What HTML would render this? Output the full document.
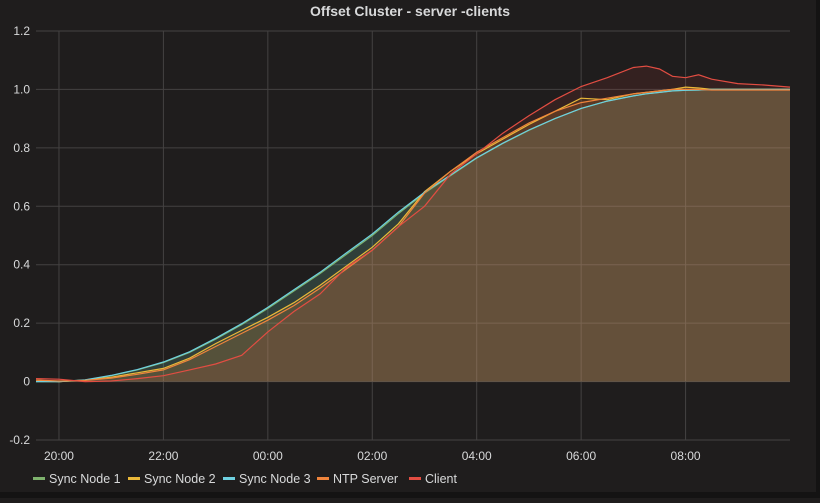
<!DOCTYPE html>
<html><head><meta charset="utf-8"><style>
html,body{margin:0;padding:0;background:#1f1d1d;}
body{width:820px;height:498px;overflow:hidden;font-family:"Liberation Sans",sans-serif;}
</style></head><body>
<svg id="chart" width="820" height="498" xmlns="http://www.w3.org/2000/svg">
<rect width="820" height="498" fill="#1f1d1d"/>
<rect x="816" y="0" width="4" height="498" fill="#141313"/>
<rect x="0" y="492" width="820" height="6" fill="#141313"/>
<text x="410" y="16" text-anchor="middle" fill="#d8d9da" font-size="14" font-weight="bold">Offset Cluster - server -clients</text>
<g id="grid"></g><g id="fills"></g><g id="lines"></g><g id="axes"></g><g id="legend"></g>
</svg>
<script>
const times = [-0.5,0,0.5,1,1.5,2,2.5,3,3.5,4,4.5,5,5.5,6,6.5,7,7.5,8,8.5,9,9.5,10,10.5,11,11.25,11.5,11.75,12,12.25,12.5,13,13.5,14];
const sync1 = [0,0,0.005,0.02,0.04,0.065,0.1,0.145,0.195,0.25,0.31,0.37,0.435,0.5,0.575,0.645,0.705,0.765,0.815,0.86,0.9,0.935,0.96,0.978,0.985,0.99,0.995,0.997,0.998,1.0,1.0,1.0,1.0];
const sync2 = [0.005,0.0,0.005,0.015,0.03,0.045,0.08,0.13,0.175,0.22,0.27,0.33,0.395,0.46,0.54,0.65,0.72,0.78,0.83,0.88,0.925,0.97,0.965,0.985,0.99,0.995,1.0,1.008,1.005,1.0,1.0,1.0,1.0];
const sync3 = [0,0,0.006,0.021,0.041,0.067,0.102,0.148,0.198,0.254,0.314,0.374,0.44,0.505,0.58,0.648,0.707,0.766,0.816,0.861,0.9,0.935,0.96,0.978,0.985,0.99,0.995,0.997,0.998,1.0,1.0,1.0,1.0];
const ntp = [0.005,0.002,0.004,0.012,0.025,0.04,0.075,0.12,0.165,0.21,0.26,0.32,0.385,0.45,0.53,0.645,0.72,0.785,0.835,0.885,0.925,0.955,0.97,0.985,0.99,0.995,1.0,1.0,1.0,0.998,0.998,0.998,0.998];
const client = [0.01,0.008,0.0,0.002,0.01,0.02,0.04,0.06,0.09,0.17,0.24,0.3,0.39,0.45,0.53,0.6,0.71,0.78,0.85,0.91,0.965,1.01,1.04,1.075,1.08,1.07,1.045,1.04,1.05,1.035,1.02,1.015,1.008];
const yTicks = [-0.2,0,0.2,0.4,0.6,0.8,1.0,1.2];
const xTickHours = [0,2,4,6,8,10,12];
const xTickLabels = ["20:00","22:00","00:00","02:00","04:00","06:00","08:00"];
const seriesNames = ["Sync Node 1","Sync Node 2","Sync Node 3","NTP Server","Client"];
const colors = ["#7eb26d","#eab839","#6ed0e0","#ef843c","#e24d42"];
const seriesData = [sync1,sync2,sync3,ntp,client];

const L=36,R=790,T=31,B=440,xMin=-0.44,xMax=14,yMin=-0.2,yMax=1.2;
const xs=h=>L+(h-xMin)/(xMax-xMin)*(R-L);
const ys=v=>B-(v-yMin)/(yMax-yMin)*(B-T);
const NS="http://www.w3.org/2000/svg";
function mk(tag,attrs,parent){const e=document.createElementNS(NS,tag);for(const k in attrs)e.setAttribute(k,attrs[k]);document.getElementById(parent).appendChild(e);return e;}

yTicks.forEach(v=>{
  const l=mk('line',{x1:L,x2:R,y1:ys(v),y2:ys(v),stroke:'#444242','stroke-width':1},'grid');
  
  
  const t=mk('text',{x:30,y:ys(v)+4,'text-anchor':'end',fill:'#d8d9da','font-size':12},'axes');
  t.textContent=(v===0?'0':v.toFixed(1));
  
  
});
xTickHours.forEach((h,i)=>{
  const l=mk('line',{x1:xs(h),x2:xs(h),y1:T,y2:B,stroke:'#444242','stroke-width':1},'grid');
  
  
  const t=mk('text',{x:xs(h),y:460,'text-anchor':'middle',fill:'#d8d9da','font-size':12},'axes');
  t.textContent=xTickLabels[i];
  
  
});
seriesData.forEach((d,si)=>{
  const pts=d.map((v,i)=>xs(Math.max(times[i],xMin)).toFixed(1)+','+ys(v).toFixed(1));
  const area=mk('path',{d:'M'+xs(Math.max(times[0],xMin))+','+ys(0)+' L'+pts.join(' L')+' L'+xs(times[times.length-1])+','+ys(0)+'Z',fill:colors[si],'fill-opacity':0.11,stroke:'none'},'fills');
  
  
  const ln=mk('polyline',{points:pts.join(' '),fill:'none',stroke:colors[si],'stroke-width':1.2},'lines');
  
  
});
const legX=[33,128,223,317,409];
seriesNames.forEach((n,i)=>{
  const r=mk('rect',{x:legX[i],y:477,width:12,height:3,fill:colors[i]},'legend');
  
  
  const t=mk('text',{x:legX[i]+16,y:483,fill:'#d8d9da','font-size':12.5},'legend');
  t.textContent=n;
  
  
});
</script>
</body></html>
